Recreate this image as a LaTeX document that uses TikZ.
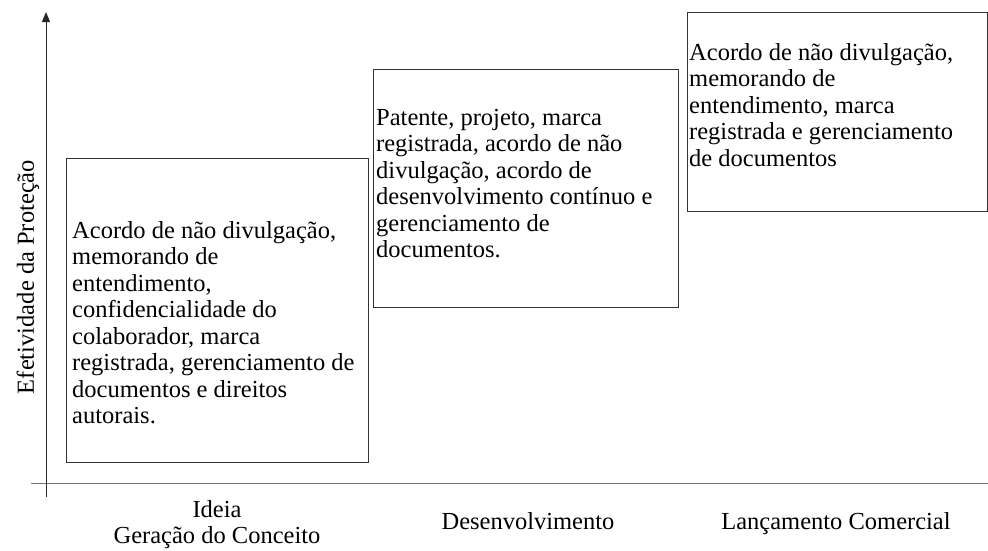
\documentclass[tikz,border=0pt]{standalone}
\usepackage{fontspec}
\setmainfont{Liberation Serif}
\usetikzlibrary{arrows.meta, positioning}

\begin{document}
\begin{tikzpicture}[x=1pt, y=-1pt, font=\fontsize{24.5}{26.5}\selectfont,
        caixa/.style={draw=black!80, line width=1.2pt, anchor=north west, inner sep=0pt},
        texto/.style={anchor=base west, align=left, inner sep=0pt},
        fase/.style={align=center, inner sep=0pt},
        eixo/.style={line width=1pt}]
        \useasboundingbox (0,0) rectangle (988,550);

        % eixos
        \coordinate (ybase) at (46,497);
        \coordinate (ytopo) at (46,12);
        \coordinate (xini)  at (31,483);
        \coordinate (xfim)  at (988,483);
        \draw[eixo, black!55] (xini) -- (xfim);
        \draw[eixo, black!85, -{Triangle[length=10pt, width=8pt]}] (ybase) -- (ytopo);

        % caixas
        \node[caixa, minimum width=302pt, minimum height=304pt] (c1) at (66,158) {};
        \node[caixa, minimum width=305pt, minimum height=238pt] (c2) at (373,69)  {};
        \node[caixa, minimum width=300pt, minimum height=199pt] (c3) at (687,12)  {};

        % texto ancorado na linha de base da ultima linha
        \node[texto] (t1) at (72,423.5) {Acordo de não divulgação,\\memorando de\\entendimento,\\confidencialidade do\\colaborador, marca\\registrada, gerenciamento de\\documentos e direitos\\autorais.};
        \node[texto] (t2) at (376,257.5) {Patente, projeto, marca\\registrada, acordo de não\\divulgação, acordo de\\desenvolvimento contínuo e\\gerenciamento de\\documentos.};
        \node[texto] (t3) at (689,166) {Acordo de não divulgação,\\memorando de\\entendimento, marca\\registrada e gerenciamento\\de documentos};

        % rotulos
        \node[rotate=90, anchor=base] (efet) at (34,277) {Efetividade da Proteção};
        \node[fase] (ideia) at (217,524.5) {Ideia\\Geração do Conceito};
        \node[fase, anchor=base] (desenv) at (528,529) {Desenvolvimento};
        \node[fase, anchor=base] (lanc) at (836,529) {Lançamento Comercial};
    \end{tikzpicture}
\end{document}
